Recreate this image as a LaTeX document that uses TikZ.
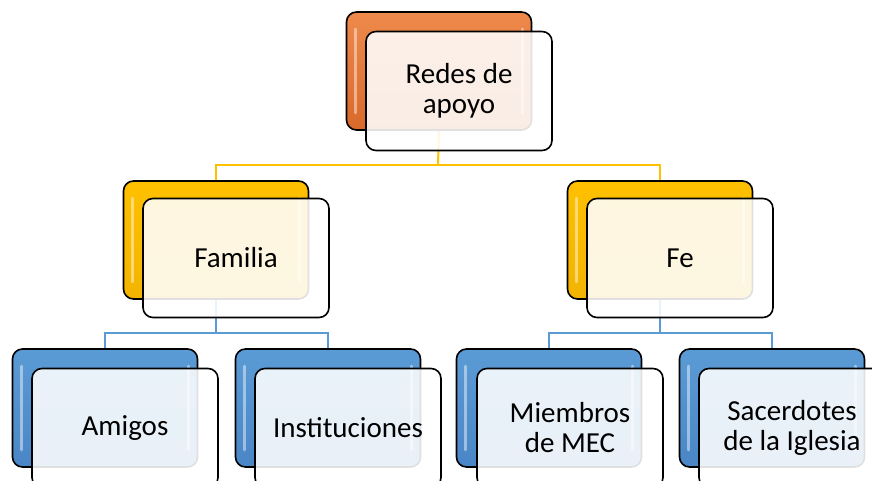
\documentclass[tikz,border=0pt]{standalone}
\usepackage{fontspec}
\setmainfont{Carlito}
\begin{document}
\begin{tikzpicture}[x=1pt,y=-1pt,
  backbox/.style={draw=black, line width=1.6pt, rounded corners=10pt, minimum width=185pt, minimum height=118pt, inner sep=0pt},
  frontbox/.style={draw=black, line width=1.6pt, rounded corners=10pt, minimum width=186pt, minimum height=119pt, inner sep=0pt, fill=white, fill opacity=0.88, text opacity=1, align=center, font=\fontsize{29}{30}\selectfont},
  yline/.style={draw=ylw, line width=2pt},
  bline/.style={draw=blu, line width=2pt},
  gloss/.style={white, opacity=0.45, line width=3pt, line cap=round}]
\definecolor{org}{HTML}{EE8A4C}
\definecolor{orgd}{HTML}{D8692A}
\definecolor{ylw}{HTML}{FFC000}
\definecolor{ylwd}{HTML}{F2B400}
\definecolor{blu}{HTML}{5B9BD5}
\definecolor{blud}{HTML}{4A86C6}
\useasboundingbox (0,0) rectangle (872,481);
\clip (0,0) rectangle (872,481);
\coordinate (j1) at (438,165);
\coordinate (j2) at (216,333);
\coordinate (j3) at (660,333);
% back boxes
\node[backbox, top color=org, bottom color=orgd] (rb) at (439,71) {};
\node[backbox, top color=ylw, bottom color=ylwd] (fab) at (216,240) {};
\node[backbox, top color=ylw, bottom color=ylwd] (feb) at (660,240) {};
\node[backbox, top color=blu, bottom color=blud] (amb) at (105,408) {};
\node[backbox, top color=blu, bottom color=blud] (inb) at (328,408) {};
\node[backbox, top color=blu, bottom color=blud] (mib) at (549,408) {};
\node[backbox, top color=blu, bottom color=blud] (sab) at (772,408) {};
% lines
\draw[yline] (rb.south) -- (j1);
\draw[yline] (fab.north) |- (j1) -| (feb.north);
\draw[bline] (fab.south) -- (j2);
\draw[bline] (amb.north) |- (j2) -| (inb.north);
\draw[bline] (feb.south) -- (j3);
\draw[bline] (mib.north) |- (j3) -| (sab.north);
% highlights
\foreach \n in {rb,fab,feb,amb,inb,mib,sab}{
  \draw[gloss] ([xshift=10pt,yshift=-18pt]\n.north west) -- ([xshift=10pt,yshift=18pt]\n.south west);
  \draw[gloss] ([xshift=-10pt,yshift=-18pt]\n.north east) -- ([xshift=-10pt,yshift=18pt]\n.south east);
}
% front boxes
\node[frontbox] (r) at (459,91) {Redes de\\apoyo};
\node[frontbox] (fa) at (236,258) {Familia};
\node[frontbox] (fe) at (680,258) {Fe};
\node[frontbox] (am) at (125,428) {Amigos};
\node[frontbox] (in) at (348,428) {Instituciones};
\node[frontbox] (mi) at (570,428) {Miembros\\de MEC};
\node[frontbox] (sa) at (792,428) {Sacerdotes\\de la Iglesia};
\end{tikzpicture}
\end{document}
